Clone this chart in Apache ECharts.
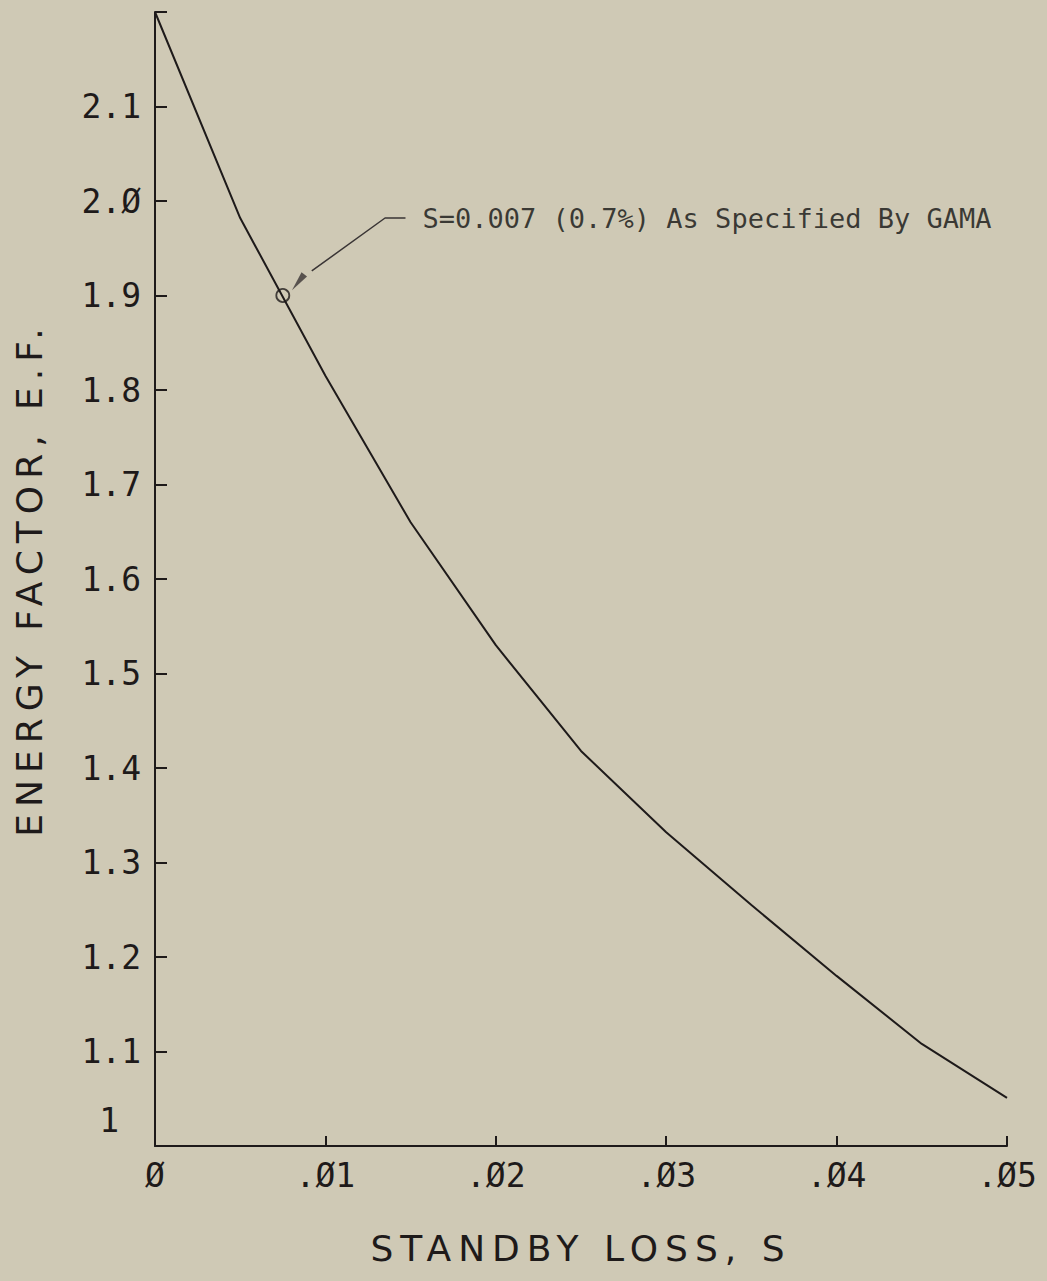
<!DOCTYPE html>
<html>
<head>
<meta charset="utf-8">
<script src="https://cdn.jsdelivr.net/npm/echarts@6/dist/echarts.min.js"></script>
<style>
html,body{margin:0;padding:0;background:#cfc9b5;}
#c{width:1047px;height:1281px;}
#c svg text[style*="DejaVu Sans\""], #c svg text[style*="36px"]{letter-spacing:7px;}
</style>
</head>
<body>
<div id="c"></div>
<script>
// Data
const standbyLoss = [0, 0.005, 0.01, 0.015, 0.02, 0.025, 0.03, 0.035, 0.04, 0.045, 0.05];
const energyFactor = [2.200, 1.982, 1.815, 1.660, 1.530, 1.418, 1.332, 1.255, 1.180, 1.108, 1.051];
const gamaPoint = [0.0075, 1.900];
const leaderLine = [[0.0092, 1.926], [0.0135, 1.982], [0.0147, 1.982]];
const leaderTack = [0.0084, 1.914];
const annotationText = 'S=0.007 (0.7%) As Specified By GAMA';
const annotationAnchor = [0.0157, 1.982];
const xTickLabels = {0: 'Ø', 0.01: '.Ø1', 0.02: '.Ø2', 0.03: '.Ø3', 0.04: '.Ø4', 0.05: '.Ø5'};
const yTickLabels = ['1', '1.1', '1.2', '1.3', '1.4', '1.5', '1.6', '1.7', '1.8', '1.9', '2.Ø', '2.1'];
const xAxisTitle = 'STANDBY LOSS, S';
const yAxisTitle = 'ENERGY FACTOR, E.F.';

const ink = '#1e1a1a';
const chart = echarts.init(document.getElementById('c'), null, {renderer: 'svg'});
chart.setOption({
  backgroundColor: '#cfc9b5',
  animation: false,
  grid: {left: 155, right: 40, top: 12, bottom: 135},
  xAxis: {
    type: 'value', min: 0, max: 0.05, interval: 0.01,
    name: xAxisTitle, nameLocation: 'middle', nameGap: 84,
    nameTextStyle: {fontFamily: 'DejaVu Sans', fontSize: 36, color: ink},
    axisLine: {show: true, lineStyle: {color: ink, width: 2}},
    axisTick: {show: true, inside: true, length: 10, lineStyle: {color: ink, width: 2}},
    splitLine: {show: false},
    axisLabel: {
      margin: 13, fontFamily: 'DejaVu Sans Mono', fontSize: 33, color: ink,
      formatter: function (v) {
        const k = Math.round(v * 100) / 100;
        return xTickLabels[k] !== undefined ? xTickLabels[k] : '';
      }
    }
  },
  yAxis: {
    type: 'value', min: 1, max: 2.2, interval: 0.1,
    name: yAxisTitle, nameLocation: 'middle', nameGap: 108, nameRotate: 90,
    nameTextStyle: {fontFamily: 'DejaVu Sans', fontSize: 36, color: ink},
    axisLine: {show: true, lineStyle: {color: ink, width: 2}},
    axisTick: {show: true, inside: true, length: 12, lineStyle: {color: ink, width: 2}},
    splitLine: {show: false},
    axisLabel: {
      margin: 14, fontFamily: 'DejaVu Sans Mono', fontSize: 33, color: ink,
      formatter: function (v) {
        const i = Math.round((v - 1) * 10);
        if (i === 0) return '{one|' + yTickLabels[0] + '}';
        return i < yTickLabels.length ? yTickLabels[i] : '';
      },
      rich: {one: {fontFamily: 'DejaVu Sans Mono', fontSize: 33, color: ink, padding: [0, 22, 52, 0]}}
    }
  },
  series: [
    {
      type: 'line', data: standbyLoss.map((x, i) => [x, energyFactor[i]]),
      showSymbol: false, smooth: false,
      lineStyle: {color: ink, width: 2}
    },
    {
      type: 'scatter', data: [gamaPoint], symbol: 'circle', symbolSize: 13,
      itemStyle: {color: 'rgba(0,0,0,0)', borderColor: ink, borderWidth: 1.8}, z: 5
    },
    {
      type: 'line', data: leaderLine, showSymbol: false,
      lineStyle: {color: '#3a3535', width: 1.5}
    },
    {
      type: 'scatter', data: [leaderTack], symbol: 'triangle', symbolSize: [7, 20],
      symbolRotate: 142, itemStyle: {color: '#3a3535'}
    },
    {
      type: 'scatter', data: [annotationAnchor], symbolSize: 0,
      label: {
        show: true, position: 'right', distance: 0, formatter: annotationText,
        fontFamily: 'DejaVu Sans Mono', fontSize: 27, color: '#111'
      }
    }
  ]
});
</script>
</body>
</html>
